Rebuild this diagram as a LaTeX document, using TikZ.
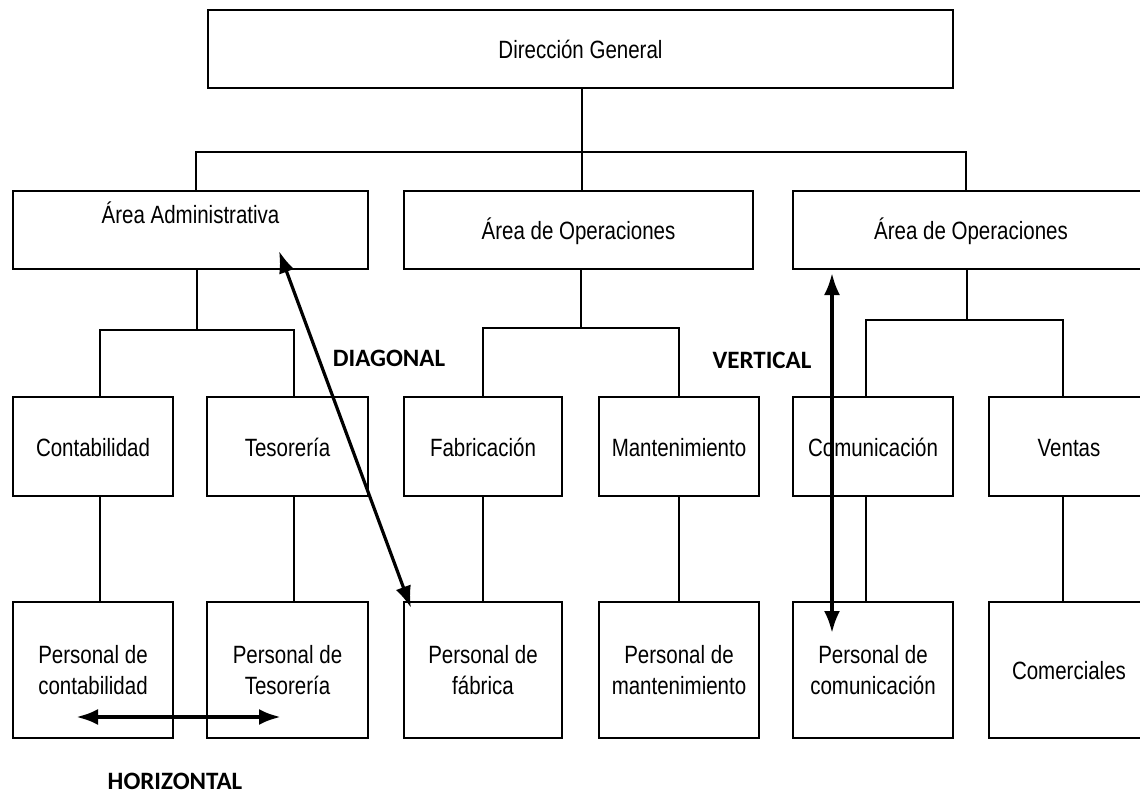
\documentclass[tikz,border=0pt]{standalone}
\usepackage{fontspec}
\setmainfont{Liberation Sans}[FakeStretch=0.82]
\newfontfamily\labfont{Carlito}
\usetikzlibrary{arrows.meta}
\tikzset{
  box/.style={draw, line width=1.8bp, inner sep=0pt, align=center,
    font=\fontsize{25bp}{31bp}\selectfont},
  oneline/.style={text height=21bp, text depth=2bp},
  wbox/.style={box, oneline, minimum width=355bp, minimum height=78bp},
  sbox/.style={box, oneline, minimum width=160bp, minimum height=99bp},
  pbox/.style={box, minimum width=160bp, minimum height=136bp},
  conn/.style={line width=1.8bp},
  rel/.style={line width=3.2bp, {Latex[length=22bp,width=16bp]}-{Latex[length=22bp,width=16bp]}},
  lab/.style={font=\labfont\bfseries\fontsize{25bp}{30bp}\selectfont}
}
\begin{document}
\begin{tikzpicture}[x=1bp,y=-1bp]
\useasboundingbox (0,0) rectangle (1140,794);
\clip (0,0) rectangle (1140,794);
\fill[white] (0,0) rectangle (1140,794);
% top
\node[box, oneline, minimum width=745bp, minimum height=78bp] (top) at (580.5,49) {Dirección General};
% row 1
\node[wbox, label={[font=\fontsize{25bp}{31bp}\selectfont, yshift=17bp]center:Área Administrativa}] (adm) at (190.5,230) {};
\node[wbox, minimum width=349bp] (op1) at (578.5,230) {Área de Operaciones};
\node[wbox, minimum width=356bp] (op2) at (971,230) {Área de Operaciones};
% row 2
\node[sbox] (con) at (93,446.5) {Contabilidad};
\node[sbox, minimum width=161bp] (tes) at (287.5,446.5) {Tesorería};
\node[sbox, minimum width=158bp] (fab) at (483,446.5) {Fabricación};
\node[sbox] (man) at (679,446.5) {Mantenimiento};
\node[sbox] (com) at (873,446.5) {Comunicación};
\node[sbox] (ven) at (1069,446.5) {Ventas};
% row 3
\node[pbox] (pc) at (93,670) {Personal de\\contabilidad};
\node[pbox, minimum width=161bp] (pt) at (287.5,670) {Personal de\\Tesorería};
\node[pbox, minimum width=158bp] (pf) at (483,670) {Personal de\\fábrica};
\node[pbox] (pm) at (679,670) {Personal de\\mantenimiento};
\node[pbox] (pco) at (873,670) {Personal de\\comunicación};
\node[pbox, oneline] (cm) at (1069,670) {Comerciales};
% connectors
\coordinate (j0) at (582,152);
\coordinate (j1) at (197,330);
\coordinate (j2) at (581,328);
\coordinate (j3) at (967,320);
\draw[conn] (top.south -| j0) -- (op1.north -| j0);
\draw[conn] ([xshift=5.5bp]adm.north) |- (j0) -| ([xshift=-5bp]op2.north);
\draw[conn] (adm.south -| j1) -- (j1);
\draw[conn] ([xshift=7bp]con.north) |- (j1) -| ([xshift=6.5bp]tes.north);
\draw[conn] (op1.south -| j2) -- (j2);
\draw[conn] (fab.north) |- (j2) -| (man.north);
\draw[conn] (op2.south -| j3) -- (j3);
\draw[conn] ([xshift=-7bp]com.north) |- (j3) -| ([xshift=-6bp]ven.north);
\draw[conn] ([xshift=7bp]con.south) -- ([xshift=7bp]pc.north);
\draw[conn] ([xshift=6.5bp]tes.south) -- ([xshift=6.5bp]pt.north);
\draw[conn] (fab.south) -- (pf.north);
\draw[conn] (man.south) -- (pm.north);
\draw[conn] ([xshift=-7bp]com.south) -- ([xshift=-7bp]pco.north);
\draw[conn] ([xshift=-6bp]ven.south) -- ([xshift=-6bp]cm.north);
% relation arrows
\coordinate (d1) at (279,251);
\coordinate (d2) at (411,608);
\coordinate (v1) at (832,273);
\coordinate (v2) at (832,633);
\coordinate (h1) at (76,717);
\coordinate (h2) at (281,717);
\draw[rel] (d1) -- (d2);
\draw[rel, line width=3.5bp] (v1) -- (v2);
\draw[rel, line width=4bp] (h1) -- (h2);
% labels
\node[lab] (ldiag) at (389,358) {DIAGONAL};
\node[lab] (lvert) at (762,360) {VERTICAL};
\node[lab] (lhor) at (175,781) {HORIZONTAL};
\end{tikzpicture}
\end{document}
